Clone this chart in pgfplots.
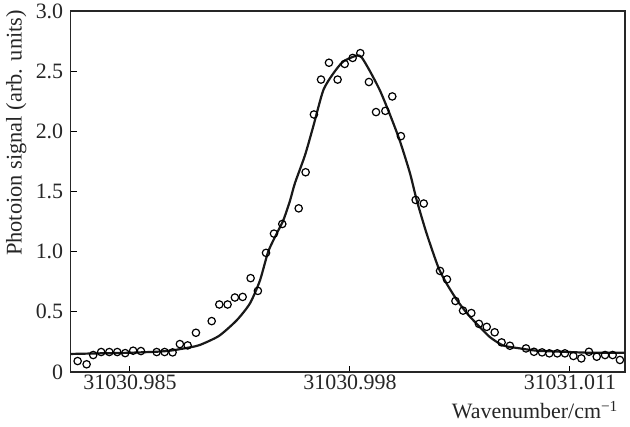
\documentclass[border=0pt]{standalone}
\usepackage{fontspec}
\setmainfont{Liberation Serif}
\usepackage{pgfplots}
\pgfplotsset{compat=1.18}
\begin{document}
\begin{tikzpicture}
\begin{axis}[
  scale only axis,
  width=554.3bp, height=361bp,
  xmin=-16.50, xmax=16.25,
  ymin=0, ymax=3.0,
  axis line style={line width=1.1bp, black!85},
  tick align=inside,
  xtick pos=bottom, ytick pos=left,
  major tick length=6bp,
  tick style={line width=1bp, black},
  xtick={-13,0,13},
  xticklabels={31030.985,31030.998,31031.011},
  ytick={0,0.5,1.0,1.5,2.0,2.5,3.0},
  yticklabels={0,0.5,1.0,1.5,2.0,2.5,3.0},
  /pgf/number format/assume math mode=true,
  ticklabel style={font=\fontsize{22}{25}\selectfont, text=black!85},
  yticklabel style={xshift=-4bp},
  xticklabel style={yshift=1bp},
  ylabel={Photoion signal (arb. units)},
  ylabel style={at={(axis description cs:-0.098,0.662)}, anchor=center, font=\fontsize{22.5}{26}\selectfont, text=black!85},
  xlabel={Wavenumber/cm\textsuperscript{\char"2212 1}},
  xlabel style={at={(axis description cs:0.9935,-0.130)}, anchor=base east, font=\fontsize{22}{26}\selectfont, text=black!85},
  clip=false,
]
\addplot[line width=2.2bp, black!90, smooth, tension=0.4, line join=round] coordinates {
(-16.50,0.150) (-14.77,0.155) (-13.00,0.160) (-11.23,0.170) (-10.48,0.180)
(-9.45,0.205) (-8.86,0.225) (-7.74,0.300) (-6.69,0.430) (-5.91,0.570)
(-5.32,0.760) (-4.83,1.000) (-4.33,1.150) (-3.94,1.260) (-3.55,1.420)
(-3.25,1.570) (-2.66,1.800) (-2.17,2.040) (-1.58,2.340) (-0.99,2.480)
(-0.40,2.580) (0.40,2.630) (0.69,2.615) (1.18,2.500) (1.77,2.340)
(2.36,2.140) (2.95,1.920) (3.55,1.650) (3.94,1.430) (4.53,1.150)
(5.22,0.870) (5.71,0.735) (6.31,0.600) (6.90,0.490) (7.49,0.400)
(8.27,0.290) (9.06,0.220) (10.05,0.196) (11.03,0.177) (12.60,0.168)
(14.18,0.160) (16.25,0.160)
};
\addplot[only marks, mark=o, mark size=3.7bp, mark options={line width=1.2bp, fill=white, draw=black}] coordinates {
(-16.09,0.091) (-15.56,0.064) (-15.17,0.141) (-14.70,0.166) (-14.22,0.166)
(-13.75,0.166) (-13.28,0.157) (-12.81,0.177) (-12.35,0.174) (-11.42,0.166)
(-10.95,0.166) (-10.48,0.163) (-10.05,0.232) (-9.59,0.221) (-9.10,0.326)
(-8.17,0.423) (-7.72,0.561) (-7.23,0.561) (-6.80,0.619) (-6.34,0.624)
(-5.87,0.780) (-5.44,0.674) (-4.96,0.990) (-4.49,1.150) (-4.00,1.230)
(-3.03,1.360) (-2.62,1.660) (-2.13,2.140) (-1.71,2.430) (-1.24,2.570)
(-0.73,2.430) (-0.31,2.560) (0.16,2.610) (0.61,2.650) (1.12,2.410)
(1.54,2.160) (2.09,2.170) (2.50,2.290) (3.01,1.960) (3.88,1.430)
(4.36,1.400) (5.32,0.840) (5.73,0.770) (6.23,0.590) (6.68,0.510)
(7.17,0.490) (7.62,0.400) (8.08,0.375) (8.55,0.330) (8.96,0.246)
(9.45,0.218) (10.40,0.196) (10.87,0.168) (11.35,0.163) (11.78,0.155)
(12.25,0.155) (12.70,0.155) (13.20,0.133) (13.67,0.113) (14.12,0.168)
(14.58,0.127) (15.07,0.141) (15.52,0.141) (15.95,0.100)
};
\end{axis}
\pgfresetboundingbox
\path (current axis.south west) ++(-70.7bp,-55bp) rectangle ++(630bp,427bp);
\end{tikzpicture}
\end{document}
